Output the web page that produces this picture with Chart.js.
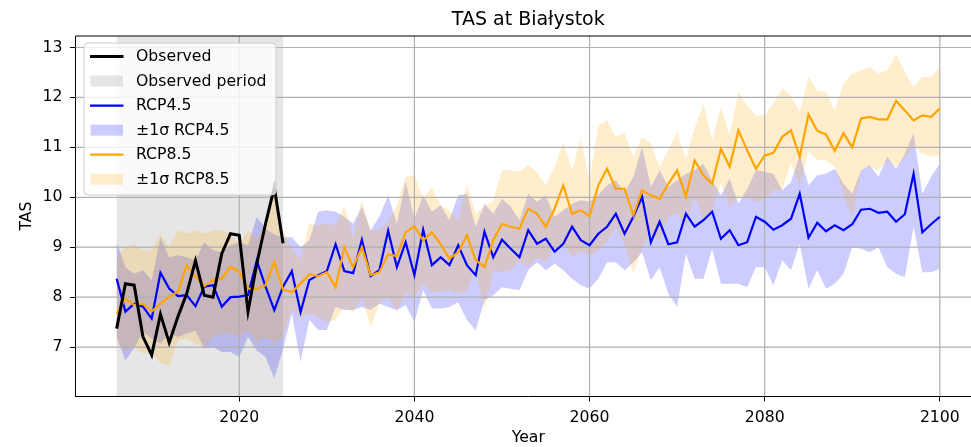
<!DOCTYPE html>
<html lang="en">
<head>
<meta charset="UTF-8">
<title>TAS at Białystok</title>
<script src="https://cdn.jsdelivr.net/npm/chart.js"></script>
<style>
  html, body { margin: 0; padding: 0; background: #fff; overflow: hidden; }
  canvas { display: block; }
</style>
</head>
<body>
<!-- the axes box runs past the right edge of the window, as in the original figure -->
<canvas id="tasChart" width="1000" height="447"></canvas>
<script>
// yearly series 2006-2100
const years = Array.from({ length: 95 }, (_, i) => 2006 + i);
const observedYears = years.slice(0, 20);
const observed = [7.37, 8.27, 8.24, 7.21, 6.84, 7.66, 7.09, 7.61, 8.07, 8.73, 8.04, 8.00, 8.87, 9.27, 9.24, 7.71, 8.67, 9.47, 10.20, 9.08];

const rcp45 = [
  8.37, 7.71, 7.87, 7.81, 7.57, 8.49, 8.17, 8.02, 8.04, 7.82, 8.21, 8.24, 7.81, 8.00, 8.01, 8.04, 8.73, 8.21, 7.74, 8.21,
  8.52, 7.70, 8.34, 8.44, 8.52, 9.06, 8.52, 8.48, 9.15, 8.42, 8.54, 9.33, 8.60, 9.10, 8.44, 9.35, 8.64, 8.80, 8.64, 9.04,
  8.64, 8.44, 9.31, 8.80, 9.15, 8.97, 8.80, 9.34, 9.07, 9.17, 8.91, 9.07, 9.41, 9.14, 9.04, 9.27, 9.41, 9.67, 9.27, 9.61,
  10.01, 9.10, 9.51, 9.06, 9.10, 9.67, 9.41, 9.54, 9.71, 9.17, 9.34, 9.04, 9.10, 9.61, 9.51, 9.35, 9.44, 9.57, 10.07, 9.19,
  9.49, 9.32, 9.44, 9.34, 9.46, 9.75, 9.77, 9.69, 9.71, 9.51, 9.66, 10.47, 9.30, 9.46, 9.61
];
const rcp45Upper = [
  9.10, 8.60, 8.47, 8.54, 8.34, 9.20, 8.80, 8.84, 8.80, 8.74, 9.10, 8.94, 8.90, 9.04, 9.10, 9.04, 9.61, 9.37, 9.25, 9.20,
  9.20, 9.00, 9.14, 9.71, 9.74, 9.71, 9.61, 9.47, 9.81, 9.34, 9.61, 10.04, 9.47, 10.31, 9.57, 10.04, 9.71, 9.84, 9.54, 10.04,
  10.07, 9.41, 9.87, 9.67, 9.97, 9.81, 9.54, 10.07, 9.91, 10.04, 9.61, 9.74, 9.87, 9.94, 9.91, 10.04, 10.24, 10.34, 10.10, 10.41,
  11.01, 10.21, 10.54, 10.21, 10.34, 10.47, 10.54, 10.67, 10.34, 10.04, 10.37, 9.87, 10.17, 10.54, 10.51, 10.47, 10.14, 10.30, 10.84, 10.24,
  10.44, 10.47, 10.57, 10.27, 10.07, 10.54, 10.64, 10.41, 10.81, 10.57, 10.87, 11.28, 10.07, 10.41, 10.67
];
const rcp45Lower = [
  7.20, 6.73, 6.98, 7.30, 7.17, 7.07, 7.27, 7.20, 7.27, 7.33, 6.97, 7.00, 6.90, 6.90, 6.80, 7.20, 6.93, 6.80, 6.37, 6.95,
  7.67, 6.70, 7.54, 7.34, 7.34, 7.80, 7.74, 7.74, 7.80, 7.74, 7.87, 7.80, 7.74, 7.84, 7.50, 8.14, 7.77, 7.77, 7.80, 7.90,
  7.54, 7.33, 7.94, 8.04, 8.20, 8.17, 8.14, 8.54, 8.70, 8.54, 8.67, 8.54, 8.37, 8.24, 8.17, 8.37, 8.70, 8.70, 8.54, 8.70,
  8.90, 8.34, 8.60, 8.07, 7.80, 8.87, 8.37, 8.37, 8.97, 8.27, 8.27, 8.27, 8.20, 8.60, 8.60, 8.24, 8.74, 8.54, 9.07, 8.17,
  8.54, 8.17, 8.27, 8.47, 9.00, 8.97, 8.90, 9.00, 8.60, 8.47, 8.40, 9.41, 8.50, 8.50, 8.57
];

const rcp85 = [
  7.67, 7.97, 7.84, 7.87, 7.71, 7.87, 8.01, 8.11, 8.64, 8.41, 8.22, 8.34, 8.37, 8.61, 8.51, 8.17, 8.17, 8.24, 8.71, 8.15,
  8.10, 8.27, 8.46, 8.42, 8.50, 8.20, 9.00, 8.60, 9.00, 8.44, 8.50, 8.86, 8.82, 9.30, 9.42, 9.14, 9.30, 9.06, 8.77, 8.90,
  9.24, 8.74, 8.60, 9.14, 9.47, 9.41, 9.37, 9.77, 9.67, 9.41, 9.77, 10.24, 9.67, 9.74, 9.62, 10.24, 10.57, 10.17, 10.17, 9.64,
  10.14, 10.04, 9.97, 10.27, 10.54, 10.01, 10.74, 10.44, 10.27, 10.97, 10.61, 11.34, 10.94, 10.57, 10.84, 10.89, 11.21, 11.34, 10.81, 11.66,
  11.33, 11.26, 10.93, 11.28, 11.00, 11.58, 11.61, 11.56, 11.56, 11.93, 11.74, 11.54, 11.64, 11.61, 11.78
];
const rcp85Upper = [
  8.80, 9.00, 9.07, 8.94, 8.94, 9.27, 9.00, 9.34, 9.27, 9.34, 9.27, 9.34, 9.34, 9.27, 9.07, 9.34, 9.17, 9.50, 10.20, 9.34,
  8.94, 8.77, 9.47, 9.44, 9.47, 9.44, 9.84, 9.20, 9.94, 9.34, 9.34, 9.51, 9.84, 10.41, 10.44, 9.97, 10.21, 9.84, 9.74, 9.54,
  10.27, 9.67, 9.81, 9.94, 10.54, 10.54, 10.51, 10.64, 10.51, 10.24, 10.61, 11.11, 10.54, 11.18, 10.34, 11.44, 11.54, 11.21, 11.28, 10.81,
  11.21, 11.07, 10.61, 10.94, 11.31, 10.77, 11.38, 11.88, 11.14, 11.81, 11.24, 12.11, 11.84, 11.64, 11.64, 11.88, 12.18, 12.04, 11.71, 12.41,
  12.14, 12.11, 11.74, 12.28, 12.48, 12.54, 12.61, 12.48, 12.54, 12.88, 12.51, 12.21, 12.41, 12.41, 12.61
];
const rcp85Lower = [
  7.07, 6.93, 7.00, 6.87, 6.90, 6.67, 6.63, 7.13, 7.17, 7.07, 7.00, 7.20, 7.27, 7.27, 7.20, 7.33, 7.10, 7.20, 7.07, 7.20,
  7.75, 7.60, 7.67, 7.60, 7.50, 7.54, 7.80, 7.70, 8.00, 7.40, 7.87, 8.00, 7.70, 8.10, 8.00, 8.27, 8.10, 8.10, 8.15, 8.07,
  8.14, 8.57, 7.74, 8.54, 8.50, 8.54, 8.74, 8.60, 8.80, 8.70, 9.00, 9.07, 8.80, 8.91, 8.84, 8.94, 9.11, 9.41, 9.07, 8.47,
  9.00, 9.27, 9.14, 9.61, 9.67, 9.41, 10.01, 9.54, 9.74, 10.27, 9.81, 10.01, 10.01, 9.91, 9.94, 10.14, 10.14, 10.70, 10.21, 10.94,
  10.74, 10.74, 10.61, 10.07, 9.61, 10.54, 10.61, 10.54, 10.74, 10.61, 10.81, 11.01, 10.87, 10.81, 10.84
];

const observedPeriod = [2006, 2025];
const xTicks = [2020, 2040, 2060, 2080, 2100];
const yTicks = [7, 8, 9, 10, 11, 12, 13];

const FONT = 'DejaVu Sans';
const BLUE = '#0000ff';
const ORANGE = '#ffa500';
const BLUE_FILL = 'rgba(0,0,255,0.2)';
const ORANGE_FILL = 'rgba(255,165,0,0.2)';
const GRAY_FILL = 'rgba(128,128,128,0.2)';
const GRID = '#b0b0b0';

const pts = (xs, ys) => xs.map((x, i) => ({ x: x, y: ys[i] }));

const lineSet = (label, data, color, width) => ({
  label: label, data: data, borderColor: color, borderWidth: width,
  pointRadius: 0, fill: false, tension: 0
});
const bandSet = (data, color, fill) => ({
  data: data, borderColor: 'rgba(0,0,0,0)', borderWidth: 0, backgroundColor: color,
  pointRadius: 0, fill: fill, tension: 0
});

const legendItems = [
  { label: 'Observed', kind: 'line', color: '#000', width: 3 },
  { label: 'Observed period', kind: 'patch', color: GRAY_FILL },
  { label: 'RCP4.5', kind: 'line', color: BLUE, width: 2.2 },
  { label: '±1σ RCP4.5', kind: 'patch', color: BLUE_FILL },
  { label: 'RCP8.5', kind: 'line', color: ORANGE, width: 2.2 },
  { label: '±1σ RCP8.5', kind: 'patch', color: ORANGE_FILL }
];

function roundRect(ctx, x, y, w, h, r) {
  ctx.beginPath();
  ctx.moveTo(x + r, y);
  ctx.arcTo(x + w, y, x + w, y + h, r);
  ctx.arcTo(x + w, y + h, x, y + h, r);
  ctx.arcTo(x, y + h, x, y, r);
  ctx.arcTo(x, y, x + w, y, r);
  ctx.closePath();
}

function hGrid(ctx, y, x0, x1) {
  ctx.strokeStyle = GRID;
  ctx.lineWidth = 1.2;
  ctx.beginPath();
  yTicks.forEach(v => {
    const py = y.getPixelForValue(v);
    ctx.moveTo(x0, py); ctx.lineTo(x1, py);
  });
  ctx.stroke();
}

const decorations = {
  id: 'decorations',
  beforeDraw(chart) {
    // observed period shading
    const { ctx, chartArea: a, scales: { x } } = chart;
    const x0 = x.getPixelForValue(observedPeriod[0]);
    const x1 = x.getPixelForValue(observedPeriod[1]);
    ctx.save();
    ctx.fillStyle = GRAY_FILL;
    ctx.fillRect(x0, a.top, x1 - x0, a.bottom - a.top);
    ctx.restore();
  },
  beforeDatasetsDraw(chart) {
    // grid above the bands, under the lines
    const { ctx, chartArea: a, scales: { x, y } } = chart;
    ctx.save();
    ctx.strokeStyle = GRID;
    ctx.lineWidth = 1.2;
    ctx.beginPath();
    xTicks.forEach(v => {
      const px = x.getPixelForValue(v);
      ctx.moveTo(px, a.top); ctx.lineTo(px, a.bottom);
    });
    ctx.stroke();
    hGrid(ctx, y, a.left, a.right);
    ctx.restore();
  },
  afterDatasetsDraw(chart) {
    // top spine
    const { ctx, chartArea: a } = chart;
    ctx.save();
    ctx.strokeStyle = '#000';
    ctx.lineWidth = 1;
    ctx.beginPath();
    ctx.moveTo(a.left, a.top); ctx.lineTo(a.right, a.top);
    ctx.stroke();
    ctx.restore();
  },
  afterDraw(chart) {
    const { ctx, chartArea: a, scales: { y } } = chart;
    ctx.save();
    // keep the strip at the window edge clean
    ctx.fillStyle = '#fff';
    ctx.fillRect(960, a.top + 1, 40, a.bottom - a.top - 1.5);
    hGrid(ctx, y, 960, 1000);

    const cx = (a.left + a.right) / 2;
    ctx.fillStyle = '#000';
    ctx.textAlign = 'center';
    ctx.textBaseline = 'alphabetic';
    ctx.font = '19px "' + FONT + '"';
    ctx.fillText('TAS at Białystok', cx, 25);
    ctx.font = '15.7px "' + FONT + '"';
    ctx.fillText('Year', cx, 441.5);
    ctx.save();
    ctx.translate(27, (a.top + a.bottom) / 2);
    ctx.rotate(-Math.PI / 2);
    ctx.textBaseline = 'middle';
    ctx.fillText('TAS', 0, 0);
    ctx.restore();

    // legend
    const lx = 84, ly = 43, lw = 192, lh = 152;
    ctx.fillStyle = 'rgba(255,255,255,0.8)';
    roundRect(ctx, lx, ly, lw, lh, 4);
    ctx.fill();
    ctx.strokeStyle = '#cccccc';
    ctx.lineWidth = 1;
    ctx.stroke();
    ctx.textAlign = 'left';
    ctx.textBaseline = 'middle';
    legendItems.forEach((item, i) => {
      const ry = 56.5 + i * 24.55;
      if (item.kind === 'line') {
        ctx.strokeStyle = item.color;
        ctx.lineWidth = item.width;
        ctx.beginPath();
        ctx.moveTo(90, ry); ctx.lineTo(123.5, ry);
        ctx.stroke();
      } else {
        ctx.fillStyle = item.color;
        ctx.fillRect(90.5, ry - 5.5, 32.5, 11);
      }
      ctx.fillStyle = '#000';
      ctx.fillText(item.label, 136, ry + 0.5);
    });
    ctx.restore();
  }
};

Chart.defaults.font.family = FONT;
Chart.defaults.font.size = 15.7;
Chart.defaults.color = '#000';

new Chart(document.getElementById('tasChart'), {
  type: 'line',
  data: {
    datasets: [
      lineSet('Observed', pts(observedYears, observed), '#000', 3),
      lineSet('RCP8.5', pts(years, rcp85), ORANGE, 2.2),
      lineSet('RCP4.5', pts(years, rcp45), BLUE, 2.2),
      bandSet(pts(years, rcp85Upper), ORANGE_FILL, '+1'),
      bandSet(pts(years, rcp85Lower), ORANGE_FILL, false),
      bandSet(pts(years, rcp45Upper), BLUE_FILL, '+1'),
      bandSet(pts(years, rcp45Lower), BLUE_FILL, false)
    ]
  },
  options: {
    responsive: false,
    animation: false,
    layout: { padding: { top: 36, right: 19, left: 0, bottom: 0 } },
    plugins: {
      legend: { display: false },
      title: { display: false },
      tooltip: { enabled: false },
      filler: { drawTime: 'beforeDatasetsDraw' }
    },
    scales: {
      x: {
        type: 'linear',
        min: 2001.3,
        max: 2104.7,
        afterBuildTicks: s => { s.ticks = xTicks.map(v => ({ value: v })); },
        afterFit: s => { s.height = 51; s.paddingLeft = 0; s.paddingRight = 0; },
        ticks: { padding: 7, maxRotation: 0, autoSkip: false, callback: v => String(v) },
        grid: { drawOnChartArea: false, drawTicks: true, tickLength: 5.5, color: '#000', lineWidth: 1 },
        border: { color: '#000', width: 1 }
      },
      y: {
        min: 6.02,
        max: 13.23,
        afterBuildTicks: s => { s.ticks = yTicks.map(v => ({ value: v })); },
        afterFit: s => { s.width = 75.5; s.paddingTop = 0; s.paddingBottom = 0; },
        ticks: { padding: 7.5, callback: v => String(v) },
        grid: { drawOnChartArea: false, drawTicks: true, tickLength: 5.5, color: '#000', lineWidth: 1 },
        border: { color: '#000', width: 1 }
      }
    }
  },
  plugins: [decorations]
});
</script>
</body>
</html>
